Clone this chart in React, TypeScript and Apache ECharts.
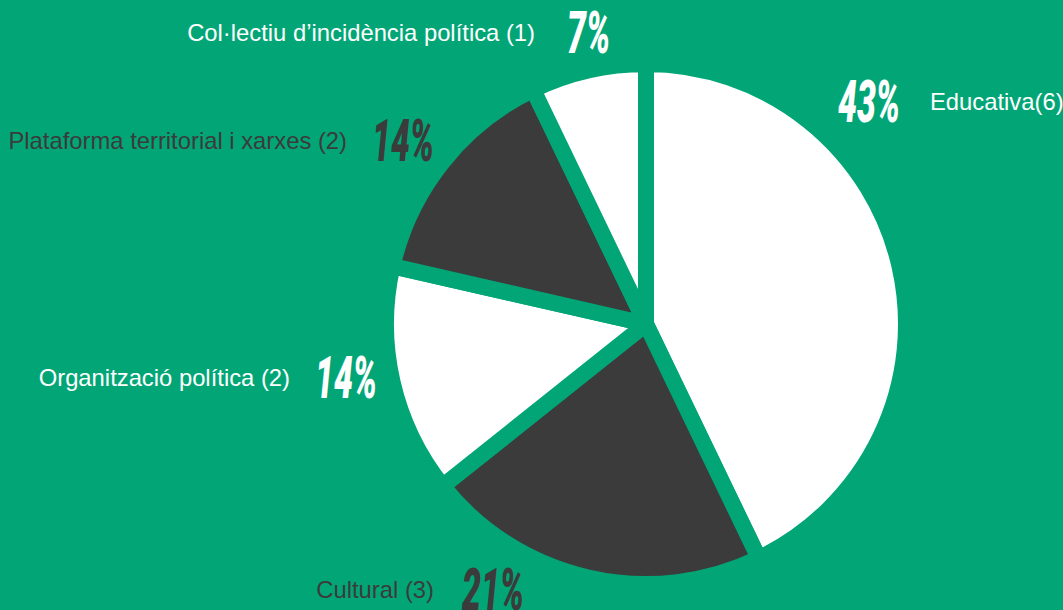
import React, { useEffect, useRef } from "react";
import * as echarts from "echarts";

// ---- data ----
const categories = [
  "Educativa",
  "Cultural",
  "Organització política",
  "Plataforma territorial i xarxes",
  "Col·lectiu d’incidència política",
];
const counts = [6, 3, 2, 2, 1];
const nameLabels = [
  "Educativa(6)",
  "Cultural (3)",
  "Organització política (2)",
  "Plataforma territorial i xarxes (2)",
  "Col·lectiu d’incidència política (1)",
];

// ---- styles / layout ----
const GREEN = "#02A676";
const DARK = "#3B3B3B";
const WHITE = "#FFFFFF";
const sliceColors = [WHITE, DARK, WHITE, DARK, WHITE];

// label placement (percent left x, centre y, name anchor x, name side)
const pctLeft = [838, 462, 315, 372, 567];
const labelY = [102, 590, 378, 141, 33];
const nameAnchor = [930, 434, 290, 347, 535];
const nameSide = ["right", "left", "left", "left", "left"];
const PCT_SCALE = 0.58;

export default function App() {
  const ref = useRef<HTMLDivElement>(null);

  useEffect(() => {
    if (!ref.current) return;
    const chart = echarts.init(ref.current, undefined, { renderer: "svg" });
    const total = counts.reduce((a, b) => a + b, 0);

    const graphics: any[] = [];
    counts.forEach((v, i) => {
      const pct = Math.round((v / total) * 100) + "%";
      const color = sliceColors[i];
      graphics.push({
        type: "text",
        x: pctLeft[i],
        y: labelY[i],
        scaleX: PCT_SCALE,
        scaleY: 1.03,
        silent: true,
        style: {
          text: pct,
          x: 0,
          y: 0,
          align: "left",
          verticalAlign: "middle",
          fill: color,
          fontFamily: "Roboto, 'Liberation Sans', sans-serif",
          fontWeight: 900,
          fontStyle: "italic",
          fontSize: 58,
        },
      });
      graphics.push({
        type: "text",
        x: nameAnchor[i],
        y: labelY[i] - 1,
        silent: true,
        style: {
          text: nameLabels[i],
          x: 0,
          y: 0,
          align: nameSide[i] === "right" ? "left" : "right",
          verticalAlign: "middle",
          fill: color,
          fontFamily: "'Liberation Sans', Arial, sans-serif",
          fontSize: 23.8,
        },
      });
    });

    chart.setOption({
      animation: false,
      backgroundColor: GREEN,
      series: [
        {
          type: "pie",
          center: [646, 324],
          radius: 260,
          startAngle: 90,
          clockwise: true,
          silent: true,
          label: { show: false },
          labelLine: { show: false },
          itemStyle: { borderColor: GREEN, borderWidth: 16 },
          data: categories.map((c, i) => ({
            name: c,
            value: counts[i],
            itemStyle: { color: sliceColors[i] },
          })),
        },
      ],
      graphic: graphics,
    });

    return () => chart.dispose();
  }, []);

  return (
    <div
      ref={ref}
      style={{ position: "fixed", left: 0, top: 0, width: 1063, height: 610 }}
    />
  );
}
